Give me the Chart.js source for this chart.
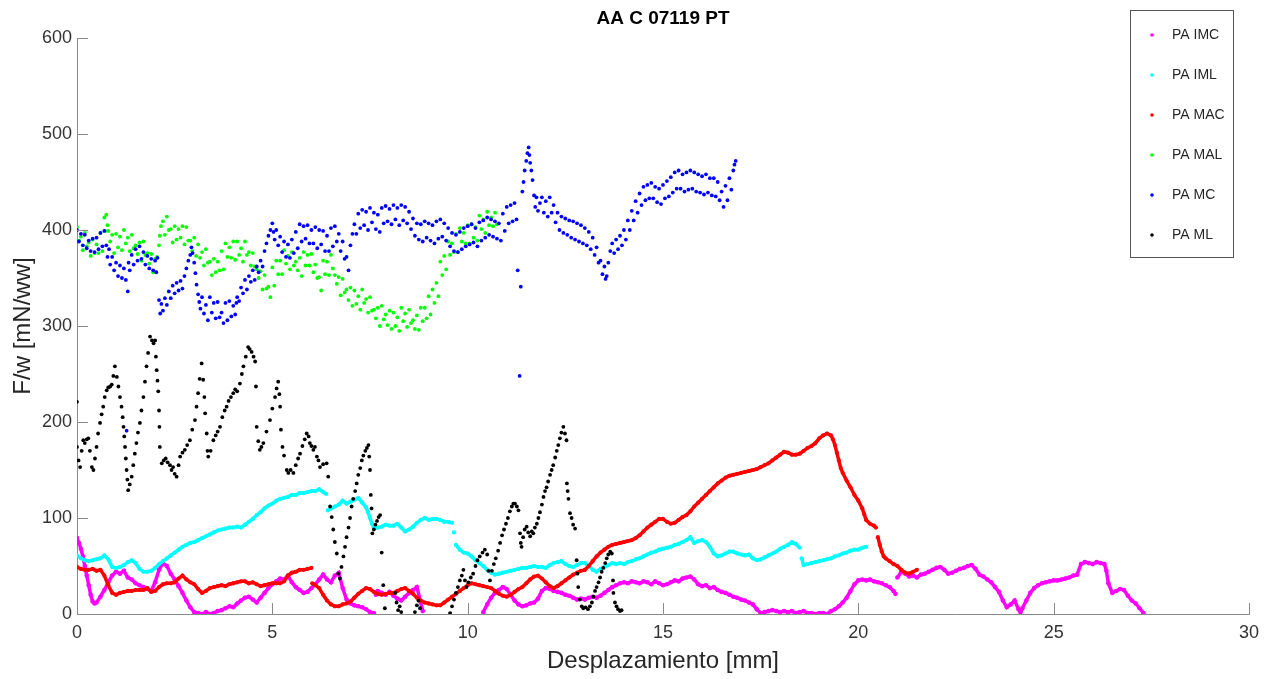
<!DOCTYPE html>
<html>
<head>
<meta charset="utf-8">
<title>AA C 07119 PT</title>
<script src="https://cdn.jsdelivr.net/npm/chart.js@4.4.1/dist/chart.umd.min.js"></script>
<style>
    html, body { margin: 0; padding: 0; background: #ffffff; }
    #wrap { position: relative; width: 1274px; height: 679px; }
</style>
</head>
<body>
<div id="wrap"><canvas id="chart"></canvas></div>
<script>
// Axis ranges and ticks
const xTicks = [0, 5, 10, 15, 20, 25, 30];
const yTicks = [0, 100, 200, 300, 400, 500, 600];

const chartTitle = 'AA C 07119 PT';
const xTitle = 'Desplazamiento [mm]';
const yTitle = 'F/w [mN/ww]';

const seriesNames = ['PA IMC', 'PA IML', 'PA MAC', 'PA MAL', 'PA MC', 'PA ML'];
const seriesColors = ['#ff00ff', '#00ffff', '#ff0000', '#00ff00', '#0000ff', '#000000'];

// [displacement mm, F/w]
const paIMC = [[0,79],[0.05,74],[0.1,68],[0.15,60],[0.2,50],[0.25,40],[0.3,30],[0.35,20],[0.4,13],[0.45,11],[0.5,12],[0.6,18],[0.7,25],[0.8,33],[0.9,40],[1,44],[1.1,42],[1.2,45],[1.3,38],[1.4,36],[1.5,32],[1.6,30],[1.7,28],[1.8,26],[1.9,24],[2,33],[2.1,46],[2.2,53],[2.3,50],[2.4,42],[2.5,36],[2.6,29],[2.7,22],[2.8,14],[2.9,7],[3,2],[3.1,1],[3.2,0],[3.3,2],[3.4,0],[3.5,1],[3.6,3],[3.7,4],[3.8,6],[3.9,8],[4,7],[4.1,11],[4.2,14],[4.3,17],[4.4,18],[4.5,15],[4.6,12],[4.7,17],[4.8,22],[4.9,27],[5,31],[5.1,34],[5.2,37],[5.3,36],[5.4,40],[5.5,33],[5.6,28],[5.7,25],[5.8,22],[5.9,23],[6,27],[6.1,31],[6.2,36],[6.3,41],[6.4,36],[6.5,33],[6.6,40],[6.7,43],[6.8,27],[6.9,15],[7,11],[7.1,9],[7.2,8],[7.3,7],[7.4,5],[7.5,2],[7.6,1],[7.65,20],[7.7,24],[7.8,22],[7.9,20],[8,23],[8.1,19],[8.2,16],[8.3,14],[8.4,18],[8.5,22],[8.6,25],[8.7,28],[8.8,12],[8.85,3],
    [10.4,2],[10.5,10],[10.6,17],[10.7,22],[10.8,25],[10.9,28],[11,26],[11.1,20],[11.2,14],[11.3,10],[11.4,8],[11.5,9],[11.6,11],[11.7,12],[11.8,16],[11.9,24],[12,27],[12.1,26],[12.2,24],[12.3,23],[12.4,22],[12.5,20],[12.6,19],[12.7,17],[12.8,15],[12.9,16],[13,15],[13.1,17],[13.2,18],[13.3,17],[13.4,19],[13.5,22],[13.6,25],[13.7,28],[13.8,30],[13.9,32],[14,33],[14.1,32],[14.2,34],[14.3,33],[14.4,32],[14.5,34],[14.6,33],[14.7,31],[14.8,34],[14.9,32],[15,30],[15.1,31],[15.2,33],[15.3,35],[15.4,34],[15.5,37],[15.6,38],[15.7,39],[15.8,36],[15.9,31],[16,29],[16.1,30],[16.2,27],[16.3,28],[16.4,25],[16.5,23],[16.6,22],[16.7,20],[16.8,18],[16.9,17],[17,15],[17.1,14],[17.2,12],[17.3,10],[17.4,5],[17.5,1],[17.6,2],[17.7,3],[17.8,4],[17.9,3],[18,2],[18.1,3],[18.2,2],[18.3,3],[18.4,1],[18.5,2],[18.6,3],[18.7,1],[18.8,1],[18.9,0],[19,1],[19.1,1],[19.2,0],[19.3,3],[19.4,5],[19.5,8],[19.6,12],[19.7,17],[19.8,24],[19.9,31],[20,35],[20.1,36],[20.2,35],[20.3,36],[20.4,34],[20.5,33],[20.6,32],[20.7,30],[20.8,28],[20.9,24],[20.95,21],[21,38],[21.1,44],[21.2,42],[21.3,39],[21.4,40],[21.5,38],[21.6,41],[21.7,42],[21.8,44],[21.9,46],[22,48],[22.1,49],[22.2,46],[22.3,42],[22.4,43],[22.5,45],[22.6,47],[22.7,48],[22.8,50],[22.9,51],[23,47],[23.1,41],[23.2,39],[23.3,36],[23.4,33],[23.5,28],[23.6,23],[23.7,14],[23.8,7],[23.9,10],[24,14],[24.1,5],[24.15,2],[24.2,6],[24.3,14],[24.4,22],[24.5,27],[24.6,30],[24.7,32],[24.8,33],[24.9,34],[25,35],[25.1,35],[25.2,36],[25.3,37],[25.4,38],[25.5,40],[25.6,41],[25.7,52],[25.8,54],[25.9,53],[26,52],[26.1,54],[26.2,53],[26.3,52],[26.35,45],[26.4,32],[26.5,22],[26.6,24],[26.7,26],[26.8,25],[26.9,19],[27,14],[27.1,11],[27.2,6],[27.3,1]];

const paIML = [[0,61],[0.1,58],[0.2,56],[0.3,55],[0.4,56],[0.5,57],[0.6,58],[0.7,61],[0.8,57],[0.9,49],[1,48],[1.1,49],[1.2,51],[1.3,54],[1.4,56],[1.5,53],[1.6,47],[1.7,44],[1.8,44],[1.9,45],[2,48],[2.1,52],[2.2,55],[2.3,58],[2.4,61],[2.5,64],[2.6,67],[2.7,70],[2.8,72],[2.9,74],[3,75],[3.1,77],[3.2,79],[3.3,81],[3.4,83],[3.5,85],[3.6,87],[3.7,88],[3.8,89],[3.9,90],[4,90],[4.1,91],[4.2,90],[4.3,93],[4.4,96],[4.5,99],[4.6,103],[4.7,106],[4.8,110],[4.9,113],[5,115],[5.1,118],[5.2,120],[5.3,121],[5.4,122],[5.5,124],[5.6,124],[5.7,126],[5.8,126],[5.9,127],[6,128],[6.1,128],[6.2,130],[6.3,127],[6.38,125],
    [6.42,108],[6.5,110],[6.6,112],[6.7,114],[6.8,118],[6.9,115],[7,117],[7.1,119],[7.2,121],[7.3,116],[7.4,111],[7.45,106],[7.5,100],[7.55,94],[7.6,89],[7.7,90],[7.8,91],[7.9,93],[8,92],[8.1,92],[8.2,94],[8.3,90],[8.4,86],[8.5,88],[8.6,91],[8.7,95],[8.8,98],[8.9,100],[9,98],[9.1,99],[9.2,99],[9.3,98],[9.4,96],[9.5,96],[9.6,95],[9.65,85],[9.7,72],[9.8,67],[9.9,64],[10,63],[10.1,60],[10.2,56],[10.3,53],[10.4,50],[10.5,46],[10.6,43],[10.7,41],[10.8,42],[10.9,43],[11,44],[11.1,45],[11.2,46],[11.3,47],[11.4,48],[11.5,48],[11.6,49],[11.7,50],[11.8,49],[11.9,49],[12,48],[12.1,51],[12.2,53],[12.3,54],[12.4,55],[12.5,52],[12.6,50],[12.7,49],[12.8,51],[12.9,53],[13,53],[13.1,50],[13.2,46],[13.3,44],[13.4,47],[13.5,49],[13.6,51],[13.7,53],[13.8,52],[13.9,53],[14,52],[14.1,54],[14.2,55],[14.3,57],[14.4,58],[14.5,60],[14.6,62],[14.7,64],[14.8,65],[14.9,67],[15,68],[15.1,69],[15.2,70],[15.3,72],[15.4,73],[15.5,75],[15.6,77],[15.7,80],[15.8,74],[15.9,76],[16,77],[16.1,75],[16.2,70],[16.3,63],[16.4,60],[16.5,61],[16.6,63],[16.7,65],[16.8,65],[16.9,63],[17,62],[17.1,61],[17.2,62],[17.3,58],[17.4,56],[17.5,57],[17.6,59],[17.7,61],[17.8,63],[17.9,65],[18,68],[18.1,70],[18.2,72],[18.3,75],[18.4,73],[18.5,69],[18.55,58],[18.6,51],[18.7,52],[18.8,53],[18.9,54],[19,55],[19.1,56],[19.2,57],[19.3,58],[19.4,60],[19.5,61],[19.6,63],[19.7,64],[19.8,66],[19.9,67],[20,67],[20.1,69],[20.2,70]];

const paMAC = [[0,49],[0.1,47],[0.2,46],[0.3,46],[0.4,47],[0.5,45],[0.6,46],[0.7,40],[0.8,30],[0.9,22],[1,20],[1.1,22],[1.2,23],[1.3,24],[1.4,24],[1.5,25],[1.6,25],[1.7,25],[1.8,27],[1.9,23],[2,24],[2.1,28],[2.2,31],[2.3,32],[2.4,32],[2.5,33],[2.6,37],[2.7,40],[2.8,36],[2.9,33],[3,31],[3.1,26],[3.2,22],[3.3,24],[3.4,27],[3.5,28],[3.6,29],[3.7,30],[3.8,29],[3.9,31],[4,32],[4.1,33],[4.2,34],[4.3,34],[4.4,32],[4.5,33],[4.6,31],[4.7,29],[4.8,30],[4.9,31],[5,32],[5.1,32],[5.2,32],[5.3,34],[5.4,40],[5.5,43],[5.6,44],[5.7,46],[5.8,46],[5.9,47],[6,48],
    [6.02,32],[6.1,30],[6.2,27],[6.3,20],[6.4,14],[6.5,10],[6.6,8],[6.7,8],[6.8,10],[6.9,11],[7,13],[7.1,17],[7.2,21],[7.3,24],[7.4,27],[7.5,26],[7.6,23],[7.7,21],[7.8,20],[7.9,21],[8,22],[8.1,22],[8.2,24],[8.3,26],[8.4,27],[8.5,24],[8.6,21],[8.7,17],[8.8,14],[8.9,12],[9,11],[9.1,10],[9.2,9],[9.3,9],[9.4,12],[9.5,15],[9.6,18],[9.7,21],[9.8,24],[9.9,27],[10,30],[10.1,32],[10.2,31],[10.3,30],[10.4,29],[10.5,28],[10.6,27],[10.7,24],[10.8,21],[10.9,19],[11,18],[11.1,20],[11.2,23],[11.3,26],[11.4,28],[11.5,32],[11.6,36],[11.7,39],[11.8,40],[11.9,37],[12,33],[12.1,29],[12.2,27],[12.3,29],[12.4,32],[12.5,35],[12.6,38],[12.7,41],[12.8,43],[12.9,45],[13,46],[13.1,50],[13.2,55],[13.3,60],[13.4,64],[13.5,67],[13.6,70],[13.7,72],[13.8,73],[13.9,74],[14,75],[14.1,76],[14.2,77],[14.3,79],[14.4,82],[14.5,86],[14.6,90],[14.7,93],[14.8,96],[14.9,99],[15,99],[15.1,96],[15.2,94],[15.3,95],[15.4,98],[15.5,101],[15.6,103],[15.7,107],[15.8,112],[15.9,116],[16,120],[16.1,124],[16.2,128],[16.3,132],[16.4,136],[16.5,139],[16.6,142],[16.7,144],[16.8,145],[16.9,146],[17,147],[17.1,148],[17.2,149],[17.3,150],[17.4,151],[17.5,153],[17.6,155],[17.7,157],[17.8,160],[17.9,163],[18,166],[18.1,169],[18.2,168],[18.3,166],[18.4,166],[18.5,167],[18.6,170],[18.7,173],[18.8,175],[18.9,178],[19,183],[19.1,186],[19.2,188],[19.3,186],[19.35,182],[19.4,176],[19.45,168],[19.5,160],[19.55,152],[19.6,147],[19.7,139],[19.8,132],[19.9,124],[20,118],[20.1,110],[20.15,104],[20.2,98],[20.3,94],[20.4,92],[20.45,90],[20.5,80],[20.55,72],[20.6,65],[20.65,60],[20.7,58],[20.8,55],[20.9,52],[21,50],[21.1,46],[21.2,43],[21.3,42],[21.4,44],[21.5,46]];

const paMAL = [[0,403],[0.05,389],[0.1,393],[0.15,379],[0.2,397],[0.25,383],[0.3,387],[0.35,373],[0.4,390],[0.45,376],[0.5,385],[0.55,376],[0.6,397],[0.65,378],[0.7,413],[0.72,399],[0.75,416],[0.78,405],[0.8,399],[0.85,388],[0.9,395],[0.95,376],[1,396],[1.05,382],[1.1,393],[1.15,379],[1.2,400],[1.25,386],[1.3,392],[1.35,378],[1.4,395],[1.45,381],[1.5,384],[1.55,375],[1.6,387],[1.65,368],[1.7,388],[1.75,374],[1.8,376],[1.85,365],[1.9,375],[1.95,356],[2,370],[2.02,356],[2.05,372],[2.1,384],[2.12,394],[2.15,404],[2.2,409],[2.25,395],[2.3,414],[2.35,400],[2.4,401],[2.45,387],[2.5,404],[2.55,390],[2.6,401],[2.65,392],[2.7,404],[2.75,385],[2.8,403],[2.85,389],[2.9,389],[2.95,378],[3,392],[3.05,373],[3.1,385],[3.15,371],[3.2,377],[3.25,363],[3.3,380],[3.35,366],[3.4,367],[3.45,353],[3.5,370],[3.55,356],[3.6,367],[3.65,358],[3.7,378],[3.75,359],[3.8,386],[3.85,372],[3.9,382],[3.95,371],[4,388],[4.05,369],[4.1,388],[4.15,374],[4.2,381],[4.25,367],[4.3,388],[4.35,374],[4.4,377],[4.45,363],[4.5,376],[4.55,362],[4.6,359],[4.65,350],[4.7,357],[4.75,338],[4.8,353],[4.85,339],[4.9,341],[4.95,330],[5,361],[5.05,342],[5.1,368],[5.15,354],[5.2,368],[5.25,354],[5.3,379],[5.35,365],[5.4,373],[5.45,359],[5.5,377],[5.55,363],[5.6,367],[5.65,358],[5.7,371],[5.75,352],[5.8,377],[5.85,363],[5.9,374],[5.95,363],[6,375],[6.05,356],[6.1,364],[6.15,350],[6.2,351],[6.25,337],[6.3,368],[6.35,354],[6.4,367],[6.45,353],[6.5,374],[6.55,360],[6.6,353],[6.65,344],[6.7,351],[6.75,332],[6.8,349],[6.85,335],[6.9,338],[6.95,327],[7,340],[7.05,321],[7.1,337],[7.15,323],[7.2,331],[7.25,317],[7.3,338],[7.35,324],[7.4,328],[7.45,314],[7.5,330],[7.55,316],[7.6,317],[7.65,308],[7.7,319],[7.75,300],[7.8,321],[7.85,307],[7.9,312],[7.95,301],[8,316],[8.05,297],[8.1,314],[8.15,300],[8.2,309],[8.25,295],[8.3,319],[8.35,305],[8.4,313],[8.45,299],[8.5,317],[8.55,303],[8.6,306],[8.65,297],[8.7,311],[8.75,296],[8.8,319],[8.85,305],[8.9,319],[8.95,308],[9,331],[9.05,312],[9.1,338],[9.15,324],[9.2,345],[9.25,331],[9.3,367],[9.35,353],[9.4,373],[9.45,359],[9.5,388],[9.55,374],[9.6,386],[9.65,377],[9.7,396],[9.75,377],[9.8,402],[9.85,388],[9.9,397],[9.95,386],[10,405],[10.05,386],[10.1,406],[10.15,392],[10.2,403],[10.25,389],[10.3,415],[10.35,401],[10.4,411],[10.45,397],[10.5,419],[10.55,405],[10.6,413],[10.65,404],[10.7,418],[10.75,406]];

const paMC = [[0,400],[0.05,388],[0.1,396],[0.15,384],[0.2,395],[0.25,381],[0.3,389],[0.35,378],[0.4,391],[0.45,377],[0.5,392],[0.55,380],[0.6,397],[0.65,383],[0.7,399],[0.75,384],[0.78,372],[0.82,380],[0.85,364],[0.9,372],[0.95,358],[1,366],[1.05,352],[1.1,363],[1.15,350],[1.2,360],[1.25,348],[1.27,191],[1.3,336],[1.32,366],[1.35,358],[1.4,374],[1.45,364],[1.5,380],[1.55,368],[1.6,383],[1.65,370],[1.7,377],[1.75,364],[1.8,373],[1.85,360],[1.9,370],[1.95,358],[2,368],[2.03,356],[2.06,371],
    [2.1,327],[2.13,313],[2.16,323],[2.2,316],[2.25,329],[2.3,322],[2.35,336],[2.4,329],[2.45,342],[2.5,334],[2.55,345],[2.6,337],[2.65,347],[2.7,339],[2.75,352],[2.8,360],[2.85,368],[2.9,374],[2.93,382],[2.96,376],[3,366],[3.03,355],[3.06,343],[3.1,333],[3.13,325],[3.16,318],[3.2,330],[3.25,313],[3.3,322],[3.35,306],[3.4,330],[3.45,314],[3.5,324],[3.55,308],[3.6,325],[3.65,309],[3.7,314],[3.75,303],[3.8,324],[3.85,306],[3.9,326],[3.95,310],[4,321],[4.05,312],[4.08,324],[4.1,330],[4.15,326],[4.2,340],[4.25,334],[4.3,348],[4.35,338],[4.4,352],[4.45,346],[4.5,358],[4.55,348],[4.6,362],[4.65,356],[4.7,368],[4.75,362],[4.8,378],[4.85,386],[4.9,394],[4.95,400],[5,407],
    [5.03,398],[5.06,390],[5.1,400],[5.15,384],[5.2,393],[5.25,377],[5.3,388],[5.35,372],[5.4,385],[5.45,371],[5.5,390],[5.55,376],[5.6,398],[5.65,381],[5.7,406],[5.75,388],[5.8,404],[5.85,391],[5.9,405],[5.95,386],[6,400],[6.05,386],[6.1,403],[6.15,381],[6.2,400],[6.25,385],[6.3,399],[6.35,378],[6.4,394],[6.45,378],[6.5,402],[6.55,383],[6.6,404],[6.65,388],[6.7,396],[6.75,378],[6.8,388],[6.85,370],[6.9,372],[6.95,358],[7,384],[7.05,396],[7.1,406],[7.15,396],
    [7.2,417],[7.25,402],[7.3,421],[7.35,405],[7.4,419],[7.45,400],[7.5,423],[7.55,408],[7.6,418],[7.65,401],[7.7,416],[7.75,398],[7.8,423],[7.85,407],[7.9,425],[7.95,409],[8,422],[8.05,406],[8.1,426],[8.15,411],[8.2,423],[8.25,405],[8.3,426],[8.35,410],[8.4,424],[8.45,407],[8.5,419],[8.55,401],[8.6,412],[8.65,394],[8.7,407],[8.75,390],[8.8,406],[8.85,388],[8.9,409],[8.95,392],[9,407],[9.05,389],[9.1,405],[9.15,386],[9.2,409],[9.25,391],[9.3,411],[9.35,393],[9.4,407],[9.45,389],[9.5,402],[9.55,383],[9.6,397],[9.65,378],[9.7,395],[9.75,377],[9.8,398],[9.85,380],[9.9,402],[9.95,383],[10,404],[10.05,385],[10.1,406],[10.15,387],[10.2,402],[10.25,383],[10.3,408],[10.35,389],[10.4,410],[10.45,392],[10.5,413],[10.55,395],[10.6,411],[10.65,393],[10.7,409],[10.75,391],[10.8,407],[10.85,389],[10.9,417],[10.95,399],[11,424],[11.05,407],[11.1,426],[11.15,409],[11.2,428],[11.25,411],
    [11.28,358],[11.33,248],[11.36,341],[11.4,440],[11.43,450],[11.46,462],[11.5,472],[11.53,480],[11.56,486],[11.58,478],[11.6,470],[11.63,462],[11.66,452],[11.7,436],
    [11.73,424],[11.76,434],[11.8,420],[11.85,428],[11.9,434],[11.95,418],[12,430],[12.05,414],[12.1,434],[12.15,418],[12.2,426],[12.25,408],[12.3,418],[12.35,400],[12.4,414],[12.45,397],[12.5,412],[12.55,395],[12.6,410],[12.65,392],[12.7,409],[12.75,390],[12.8,407],[12.85,388],[12.9,405],[12.95,386],[13,402],[13.05,384],[13.1,398],[13.15,380],[13.2,392],[13.25,374],[13.3,382],[13.35,366],[13.4,368],[13.45,354],[13.5,362],[13.53,349],[13.56,352],[13.6,366],[13.65,378],[13.7,386],[13.75,376],[13.8,390],[13.85,380],[13.9,394],[13.95,384],[14,400],[14.05,390],[14.1,410],[14.15,400],[14.2,420],[14.25,410],[14.3,430],[14.35,418],[14.4,438],[14.45,426],[14.5,445],[14.55,431],[14.6,447],[14.65,433],[14.7,449],[14.75,433],[14.8,445],[14.85,429],[14.9,443],[14.95,427],[15,447],[15.05,433],[15.1,451],[15.15,435],[15.2,455],[15.25,439],[15.3,460],[15.35,443],[15.4,462],[15.45,443],[15.5,458],[15.55,440],[15.6,460],[15.65,442],[15.7,462],[15.75,443],[15.8,460],[15.85,440],[15.9,458],[15.95,439],[16,456],[16.05,437],[16.1,458],[16.15,439],[16.2,454],[16.25,436],[16.3,454],[16.35,435],[16.4,450],[16.45,431],[16.5,440],[16.55,424],[16.6,446],[16.65,431],[16.7,454],[16.75,442],[16.8,462],[16.83,468],[16.86,472]];

const paML = [[0,221],[0,174],[0.04,160],[0.08,153],[0.12,170],[0.16,181],[0.2,178],[0.25,182],[0.29,183],[0.33,170],[0.38,153],[0.42,150],[0.46,162],[0.5,174],[0.54,188],[0.59,199],[0.63,208],[0.67,216],[0.71,226],[0.76,233],[0.8,236],[0.85,237],[0.89,239],[0.93,248],[0.97,258],[1.02,247],[1.06,237],[1.1,226],[1.14,216],[1.17,205],[1.19,195],[1.21,185],[1.23,174],[1.25,162],[1.27,150],[1.29,140],[1.31,129],[1.35,135],[1.4,143],[1.44,155],[1.48,167],[1.52,178],[1.56,189],[1.61,199],[1.65,212],[1.7,226],[1.74,242],[1.78,258],[1.82,272],[1.87,289],[1.92,285],[1.96,282],[2,285],[2.02,268],[2.04,254],[2.06,243],[2.08,232],[2.1,212],[2.11,195],[2.12,174],[2.17,157],[2.22,160],[2.27,162],[2.32,158],[2.38,155],[2.42,150],[2.46,153],[2.5,146],[2.55,143],[2.6,155],[2.64,164],[2.7,168],[2.76,171],[2.82,176],[2.89,181],[2.95,192],[3.02,202],[3.06,216],[3.1,230],[3.14,245],[3.19,261],[3.23,244],[3.26,226],[3.28,209],[3.32,188],[3.34,170],[3.36,164],[3.42,170],[3.49,181],[3.55,186],[3.6,190],[3.66,195],[3.72,205],[3.78,212],[3.83,216],[3.88,222],[3.94,226],[4,230],[4.05,234],[4.1,232],[4.17,240],[4.22,250],[4.26,258],[4.32,268],[4.38,278],[4.42,276],[4.47,273],[4.52,268],[4.56,263],[4.58,237],[4.6,195],[4.64,180],[4.68,171],[4.72,174],[4.77,178],[4.85,190],[4.94,202],[5,214],[5.07,226],[5.11,235],[5.15,242],[5.18,229],[5.2,216],[5.22,192],[5.26,174],[5.3,165],[5.37,150],[5.41,147],[5.47,150],[5.54,147],[5.6,155],[5.66,162],[5.71,167],[5.77,175],[5.83,182],[5.88,188],[5.93,185],[5.96,178],[6,175],[6.05,171],[6.09,174],[6.14,164],[6.18,160],[6.22,153],[6.3,156],[6.39,157],[6.43,143],[6.48,112],[6.52,101],[6.56,88],[6.6,75],[6.65,63],[6.69,42],[6.73,37],[6.77,49],[6.82,60],[6.86,70],[6.9,80],[6.95,90],[6.99,100],[7.03,112],[7.07,120],[7.12,128],[7.16,136],[7.2,145],[7.25,152],[7.29,160],[7.33,165],[7.38,170],[7.42,173],[7.46,176],[7.48,164],[7.5,150],[7.52,124],[7.54,110],[7.56,84],[7.6,88],[7.64,93],[7.68,97],[7.72,101],[7.76,103],[7.8,64],[7.84,30],[7.88,6],[8.15,22],[8.18,12],[8.22,4],[8.26,8],[8.3,2],[8.65,2],[8.7,9],[8.74,14],[8.78,6],[9.55,1],[9.6,8],[9.65,15],[9.7,22],[9.75,28],[9.8,35],[9.85,40],[9.89,46],[9.93,35],[9.97,28],[10.02,33],[10.08,38],[10.14,42],[10.2,50],[10.25,56],[10.31,60],[10.38,64],[10.44,67],[10.5,62],[10.53,45],[10.57,35],[10.62,45],[10.67,52],[10.72,58],[10.78,66],[10.83,74],[10.88,82],[10.93,88],[10.98,94],[11.03,100],[11.08,107],[11.13,112],[11.17,115],[11.21,115],[11.26,112],[11.3,108],[11.34,84],[11.36,74],[11.38,70],[11.42,80],[11.46,88],[11.51,91],[11.55,85],[11.6,81],[11.64,86],[11.68,84],[11.72,90],[11.77,94],[11.81,100],[11.85,106],[11.9,114],[11.94,122],[11.98,128],[12.02,132],[12.06,138],[12.11,145],[12.15,150],[12.19,155],[12.24,163],[12.28,170],[12.32,176],[12.36,183],[12.4,189],[12.45,195],[12.49,188],[12.53,181],[12.54,136],[12.56,128],[12.58,120],[12.62,105],[12.66,100],[12.7,93],[12.75,89],[12.79,56],[12.81,42],[12.83,28],[12.87,15],[12.92,8],[12.96,6],[13.02,7],[13.08,5],[13.13,8],[13.18,12],[13.22,18],[13.26,24],[13.3,28],[13.35,33],[13.39,38],[13.43,44],[13.47,48],[13.52,53],[13.56,58],[13.6,62],[13.65,65],[13.69,63],[13.72,35],[13.73,22],[13.77,12],[13.81,8],[13.85,5],[13.9,3],[13.94,4]];

const seriesData = [paIMC, paIML, paMAC, paMAL, paMC, paML];

(function() {
    'use strict';

    const FONT = "'Liberation Sans', Arial, Helvetica, sans-serif";
    const AXIS_COLOR = '#8a8a8a';
    const TEXT_COLOR = '#333333';
    const TICK_LEN = 11;

    // Marker / trace look per series (dense traces get a joining stroke)
    const pointRadius = [2.3, 2.1, 2.1, 1.9, 1.9, 1.9];
    const traceWidth = [3.5, 3.5, 3.5, 0, 0, 0];
    const maxSlope = [300, 180, 180, 0, 0, 0];

    /**
     * True when two neighbouring samples are a jump, not a continuous trace
     */
    function isJump(p0, p1, limit) {
        const dx = p1.x - p0.x;
        if (dx <= 0 || dx > 0.3) return true;
        return Math.abs(p1.y - p0.y) / dx > limit;
    }

    /**
     * MATLAB-like decorations: inward ticks, centered title, boxed legend
     */
    const matlabDecor = {
        id: 'matlabDecor',
        afterDraw(chart) {
            const ctx = chart.ctx;
            const area = chart.chartArea;
            const xs = chart.scales.x;
            const ys = chart.scales.y;

            ctx.save();

            // Inward tick marks
            ctx.strokeStyle = AXIS_COLOR;
            ctx.lineWidth = 1;
            ctx.beginPath();
            xs.ticks.forEach(t => {
                const px = Math.round(xs.getPixelForValue(t.value)) + 0.5;
                ctx.moveTo(px, area.bottom);
                ctx.lineTo(px, area.bottom - TICK_LEN);
            });
            ys.ticks.forEach(t => {
                const py = Math.round(ys.getPixelForValue(t.value)) + 0.5;
                ctx.moveTo(area.left, py);
                ctx.lineTo(area.left + TICK_LEN, py);
            });
            ctx.stroke();

            // Title centered over the axes
            ctx.fillStyle = '#000000';
            ctx.font = 'bold 19px ' + FONT;
            ctx.textAlign = 'center';
            ctx.textBaseline = 'middle';
            ctx.fillText(chartTitle, (area.left + area.right) / 2, 19);

            // Legend box
            const box = { x: 1130.5, y: 10.5, w: 103, h: 247 };
            ctx.fillStyle = '#ffffff';
            ctx.fillRect(box.x, box.y, box.w, box.h);
            ctx.strokeStyle = '#555555';
            ctx.strokeRect(box.x, box.y, box.w, box.h);

            ctx.font = '14px ' + FONT;
            ctx.textAlign = 'left';
            chart.data.datasets.forEach((ds, i) => {
                const cy = 35 + i * 40;
                ctx.fillStyle = ds.backgroundColor;
                ctx.beginPath();
                ctx.arc(1152, cy, 1.8, 0, Math.PI * 2);
                ctx.fill();
                ctx.fillStyle = '#262626';
                ctx.fillText(ds.label, 1172, cy);
            });

            ctx.restore();
        }
    };

    function buildDatasets() {
        return seriesNames.map((name, i) => {
            const color = seriesColors[i];
            const joined = traceWidth[i] > 0;
            return {
                label: name,
                data: seriesData[i].map(p => ({ x: p[0], y: p[1] })),
                backgroundColor: color,
                borderColor: color,
                borderWidth: joined ? traceWidth[i] : 0,
                pointBorderWidth: 0,
                pointRadius: pointRadius[i],
                pointHoverRadius: pointRadius[i],
                showLine: joined,
                tension: 0,
                segment: joined ? {
                    borderColor: c => isJump(c.p0.parsed, c.p1.parsed, maxSlope[i]) ? 'rgba(0,0,0,0)' : color
                } : undefined,
                order: seriesNames.length - i
            };
        });
    }

    function init() {
        const ctx = document.getElementById('chart').getContext('2d');
        new Chart(ctx, {
            type: 'scatter',
            data: { datasets: buildDatasets() },
            options: {
                responsive: true,
                maintainAspectRatio: false,
                animation: false,
                layout: { padding: { top: 38, right: 25, left: 0, bottom: 0 } },
                plugins: {
                    legend: { display: false },
                    title: { display: false },
                    tooltip: { enabled: false }
                },
                scales: {
                    x: {
                        type: 'linear',
                        min: xTicks[0],
                        max: xTicks[xTicks.length - 1],
                        afterBuildTicks: scale => { scale.ticks = xTicks.map(v => ({ value: v })); },
                        afterFit: scale => { scale.height = 65; },
                        grid: { display: false, drawTicks: false },
                        border: { display: true, color: AXIS_COLOR, width: 1 },
                        ticks: {
                            padding: 8,
                            color: TEXT_COLOR,
                            font: { family: FONT, size: 18 },
                            maxRotation: 0
                        },
                        title: {
                            display: true,
                            text: xTitle,
                            color: '#262626',
                            font: { family: FONT, size: 24 },
                            padding: { top: 0, bottom: 3 }
                        }
                    },
                    y: {
                        type: 'linear',
                        min: yTicks[0],
                        max: yTicks[yTicks.length - 1],
                        afterBuildTicks: scale => { scale.ticks = yTicks.map(v => ({ value: v })); },
                        afterFit: scale => { scale.width = 77; },
                        grid: { display: false, drawTicks: false },
                        border: { display: true, color: AXIS_COLOR, width: 1 },
                        ticks: {
                            padding: 5,
                            color: TEXT_COLOR,
                            font: { family: FONT, size: 18 }
                        },
                        title: {
                            display: true,
                            text: yTitle,
                            color: '#262626',
                            font: { family: FONT, size: 24 },
                            padding: { top: 9, bottom: 0 }
                        }
                    }
                }
            },
            plugins: [matlabDecor]
        });
    }

    if (document.readyState === 'loading') {
        document.addEventListener('DOMContentLoaded', init);
    } else {
        init();
    }
})();
</script>
</body>
</html>
